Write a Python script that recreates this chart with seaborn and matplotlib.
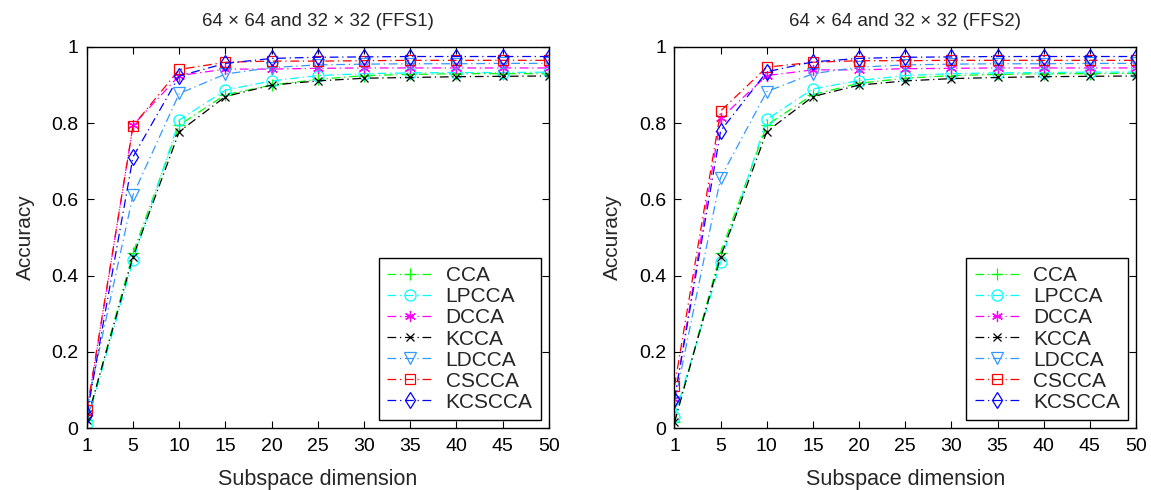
import matplotlib
matplotlib.use("Agg")
import matplotlib.pyplot as plt
import seaborn as sns
import pandas as pd

x_labels = ["1", "5", "10", "15", "20", "25", "30", "35", "40", "45", "50"]
methods = ["CCA", "LPCCA", "DCCA", "KCCA", "LDCCA", "CSCCA", "KCSCCA"]

ffs1_cca    = [0.020, 0.460, 0.795, 0.875, 0.900, 0.915, 0.925, 0.928, 0.930, 0.930, 0.930]
ffs1_lpcca  = [0.013, 0.440, 0.808, 0.887, 0.911, 0.925, 0.930, 0.932, 0.933, 0.933, 0.934]
ffs1_dcca   = [0.040, 0.795, 0.925, 0.942, 0.942, 0.944, 0.945, 0.945, 0.945, 0.945, 0.945]
ffs1_kcca   = [0.020, 0.450, 0.778, 0.870, 0.900, 0.911, 0.918, 0.920, 0.922, 0.923, 0.924]
ffs1_ldcca  = [0.055, 0.612, 0.878, 0.929, 0.946, 0.953, 0.955, 0.956, 0.956, 0.957, 0.957]
ffs1_cscca  = [0.047, 0.793, 0.941, 0.960, 0.963, 0.963, 0.964, 0.965, 0.965, 0.965, 0.965]
ffs1_kcscca = [0.035, 0.712, 0.924, 0.957, 0.970, 0.973, 0.974, 0.975, 0.975, 0.975, 0.975]

ffs2_cca    = [0.015, 0.460, 0.795, 0.875, 0.905, 0.918, 0.925, 0.928, 0.930, 0.930, 0.931]
ffs2_lpcca  = [0.030, 0.435, 0.810, 0.890, 0.912, 0.925, 0.930, 0.932, 0.933, 0.934, 0.934]
ffs2_dcca   = [0.075, 0.813, 0.925, 0.940, 0.940, 0.943, 0.944, 0.945, 0.945, 0.945, 0.945]
ffs2_kcca   = [0.015, 0.450, 0.778, 0.870, 0.900, 0.911, 0.917, 0.920, 0.922, 0.923, 0.924]
ffs2_ldcca  = [0.065, 0.657, 0.883, 0.930, 0.947, 0.953, 0.955, 0.956, 0.956, 0.957, 0.957]
ffs2_cscca  = [0.110, 0.832, 0.947, 0.960, 0.964, 0.964, 0.965, 0.965, 0.965, 0.965, 0.965]
ffs2_kcscca = [0.076, 0.780, 0.935, 0.961, 0.970, 0.973, 0.974, 0.975, 0.975, 0.975, 0.975]

ffs1 = [ffs1_cca, ffs1_lpcca, ffs1_dcca, ffs1_kcca, ffs1_ldcca, ffs1_cscca, ffs1_kcscca]
ffs2 = [ffs2_cca, ffs2_lpcca, ffs2_dcca, ffs2_kcca, ffs2_ldcca, ffs2_cscca, ffs2_kcscca]
titles = ["64 \u00d7 64 and 32 \u00d7 32 (FFS1)", "64 \u00d7 64 and 32 \u00d7 32 (FFS2)"]

colors = ["#00ff00", "#00ffff", "#ff00ff", "#000000", "#3399ff", "#ff0000", "#0000ff"]
markers = ["+", "o", (6, 2, 0), "x", "v", "s", "d"]
msizes = [9, 8, 8, 6, 8, 7, 8]

sns.set_theme(style="white")
plt.rcParams["font.family"] = ["Liberation Sans", "DejaVu Sans"]
plt.rcParams["font.size"] = 12

fig = plt.figure(figsize=(11.51, 4.90), dpi=100)
ax1 = fig.add_axes([0.0755, 0.1265, 0.4013, 0.7776])
ax2 = fig.add_axes([0.5860, 0.1265, 0.4010, 0.7776])

for ax, data, title in zip([ax1, ax2], [ffs1, ffs2], titles):
    for name, vals, c, m, ms in zip(methods, data, colors, markers, msizes):
        df = pd.DataFrame({"dim": x_labels, "acc": vals})
        sns.lineplot(data=df, x="dim", y="acc", ax=ax, color=c, marker=m,
                     markersize=ms, markerfacecolor="none", markeredgecolor=c,
                     markeredgewidth=0.9, linewidth=0.9, label=name,
                     dashes=False, sort=False)
        ax.lines[-1].set_dashes([7, 3, 1, 3])
    ax.set_xlim(0, len(x_labels) - 1)
    ax.set_ylim(0, 1)
    ax.set_yticks([0, 0.2, 0.4, 0.6, 0.8, 1.0])
    ax.set_yticklabels(["0", "0.2", "0.4", "0.6", "0.8", "1"])
    ax.set_xlabel("Subspace dimension", fontsize=15.5, labelpad=10)
    ax.set_ylabel("Accuracy", fontsize=15, labelpad=12)
    ax.set_title(title, fontsize=13.5, pad=15)
    ax.tick_params(direction="in", length=5, width=0.8, labelsize=14,
                   top=True, right=True, bottom=True, left=True, colors="black")
    ax.tick_params(axis="x", pad=7)
    ax.tick_params(axis="y", pad=6)
    for s in ax.spines.values():
        s.set_color("black")
        s.set_linewidth(1.0)
    leg = ax.legend(loc="lower right", fontsize=15, frameon=True, fancybox=False,
                    edgecolor="black", framealpha=1, borderaxespad=0.38,
                    labelspacing=0.1, handlelength=2.2, handletextpad=0.6,
                    borderpad=0.4)
    leg.get_frame().set_linewidth(1.0)
    for h in leg.get_lines():
        h.set_dashes([7, 3, 1, 3])

fig.savefig("out.png", dpi=100)
